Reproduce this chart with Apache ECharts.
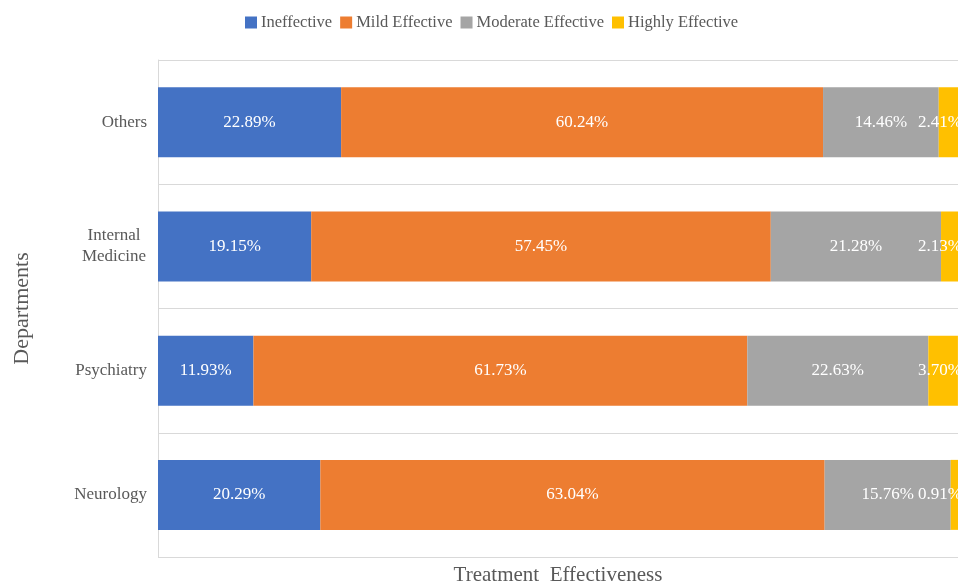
<!DOCTYPE html>
<html>
<head>
<meta charset="utf-8">
<script src="https://cdn.jsdelivr.net/npm/echarts@6/dist/echarts.min.js"></script>
<style>html,body{margin:0;padding:0;background:#fff}#c{width:958px;height:586px}</style>
</head>
<body>
<div id="c"></div>
<script>
const categories = ['Neurology', 'Psychiatry', 'Internal\nMedicine', 'Others'];
const seriesNames = ['Ineffective', 'Mild Effective', 'Moderate Effective', 'Highly Effective'];
const ineffective = [20.29, 11.93, 19.15, 22.89];
const mildEffective = [63.04, 61.73, 57.45, 60.24];
const moderateEffective = [15.76, 22.63, 21.28, 14.46];
const highlyEffective = [0.91, 3.70, 2.13, 2.41];
const colors = ['#4472C4', '#ED7D31', '#A5A5A5', '#FFC000'];

const font = '"Liberation Serif", "DejaVu Serif", serif';
const values = [ineffective, mildEffective, moderateEffective, highlyEffective];

const chart = echarts.init(document.getElementById('c'), null, {renderer: 'canvas'});
chart.setOption({
  animation: false,
  color: colors,
  textStyle: {fontFamily: font},
  legend: {
    top: 9, left: 240,
    itemWidth: 12, itemHeight: 12, itemGap: 8,
    icon: 'rect',
    textStyle: {fontFamily: font, fontSize: 16.5, color: '#595959', padding: [0, 0, 0, -1]},
    data: seriesNames
  },
  grid: {left: 158, right: 0, top: 60, bottom: 29, containLabel: false, outerBoundsMode: 'none'},
  xAxis: {
    type: 'value', min: 0, max: 100,
    axisLine: {show: false}, axisTick: {show: false}, axisLabel: {show: false},
    splitLine: {show: false},
    name: 'Treatment  Effectiveness', nameLocation: 'middle', nameGap: 8,
    nameTextStyle: {fontFamily: font, fontSize: 21, color: '#595959'}
  },
  yAxis: {
    type: 'category', data: categories,
    axisLine: {show: true, lineStyle: {color: '#D9D9D9'}},
    axisTick: {show: false},
    axisLabel: {
      fontFamily: font, fontSize: 17, color: '#595959', margin: 11, lineHeight: 21, align: 'right',
      formatter: v => v.indexOf('\n') >= 0 ? v.split('\n').map(s => '{c|' + s + '}').join('\n') : v,
      rich: {c: {fontFamily: font, fontSize: 17, color: '#595959', width: 66, align: 'center', lineHeight: 21}}
    },
    splitLine: {show: true, lineStyle: {color: '#D9D9D9', width: 1}},
    name: 'Departments', nameLocation: 'middle', nameGap: 125, nameRotate: 90,
    nameTextStyle: {fontFamily: font, fontSize: 22, color: '#595959'}
  },
  series: seriesNames.map((name, i) => ({
    name: name,
    type: 'bar',
    stack: 'total',
    barWidth: 70,
    data: values[i],
    label: {
      show: true,
      position: i === 3 ? 'insideRight' : 'inside',
      distance: i === 3 ? -4 : 5,
      formatter: p => p.value.toFixed(2) + '%',
      color: '#FFFFFF',
      fontFamily: font,
      fontSize: 17
    }
  }))
});
</script>
</body>
</html>
